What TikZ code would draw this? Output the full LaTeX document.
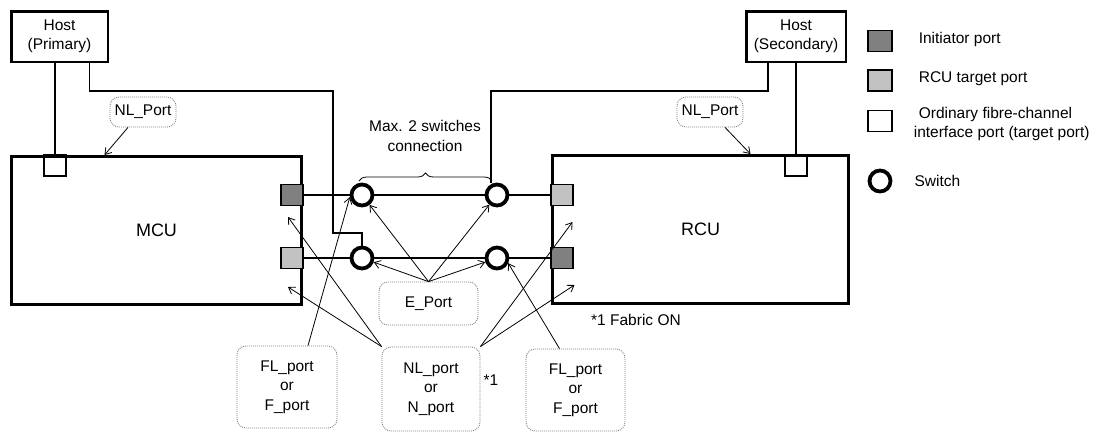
\documentclass[tikz,border=0pt]{standalone}
\usepackage{fontspec}
\setmainfont{Liberation Sans}
\usetikzlibrary{arrows.meta, positioning, decorations.pathreplacing}

\definecolor{initgray}{gray}{0.5}
\definecolor{tgtgray}{gray}{0.76}

\begin{document}
\begin{tikzpicture}[
	x=1pt, y=-1pt,
	font=\fontsize{15.5}{19.5}\selectfont,
	host/.style={
		rectangle,
		draw,
		line width=2.5pt,
		minimum width=96.5pt,
		minimum height=50.5pt,
		align=center,
		inner sep=2pt
	},
	unit/.style={
		rectangle,
		draw,
		line width=3pt,
		minimum width=290pt,
		minimum height=148pt,
		font=\fontsize{18}{20}\selectfont
	},
	port/.style={
		rectangle,
		draw,
		line width=1.2pt,
		minimum width=22pt,
		minimum height=21pt,
		inner sep=0pt
	},
	initport/.style={port, fill=initgray},
	tgtport/.style={port, fill=tgtgray},
	fcport/.style={port},
	switch/.style={
		circle,
		draw,
		line width=3.8pt,
		minimum size=21pt,
		inner sep=0pt,
		fill=white
	},
	note/.style={
		rectangle,
		draw=gray,
		dash pattern=on 1pt off 1pt,
		line width=0.8pt,
		rounded corners=9pt,
		align=center,
		inner sep=2pt
	},
	link/.style={line width=1.3pt},
	arrow/.style={
		-{Straight Barb[length=6pt, width=8pt]},
		line width=0.8pt
	},
	legtext/.style={inner sep=0pt, align=left}
	]
	
	\useasboundingbox (0,0) rectangle (1103,432);
	
	% Hosts
	\node[host] (hostp) at (59.5,36.5) {Host\\(Primary)};
	\node[host, minimum width=99.5pt] (hosts) at (796,36.5) {Host\\(Secondary)};
	
	% Control units
	\node[unit] (mcu) at (156.5,230.5) {MCU};
	\node[unit, minimum width=296pt] (rcu) at (700.5,229.5) {RCU};
	
	% Ports of the MCU
	\node[fcport] (mcufc) at (55,165.5) {};
	\node[initport] (mcuinit) at (292,195) {};
	\node[tgtport] (mcutgt) at (292,258) {};
	
	% Ports of the RCU
	\node[fcport] (rcufc) at (796,165.5) {};
	\node[tgtport] (rcutgt) at (562,195) {};
	\node[initport] (rcuinit) at (562,258) {};
	
	% Switches
	\node[switch] (swa) at (362,195) {};
	\node[switch] (swb) at (362,258) {};
	\node[switch] (swc) at (497,195) {};
	\node[switch] (swd) at (497,258) {};
	
	% Fibre links
	\draw[link] (mcuinit.east) -- (swa.west);
	\draw[link] (swa.east) -- (swc.west);
	\draw[link] (swc.east) -- (rcutgt.west);
	\draw[link] (mcutgt.east) -- (swb.west);
	\draw[link] (swb.east) -- (swd.west);
	\draw[link] (swd.east) -- (rcuinit.west);
	
	% Host cables
	\draw[link] (hostp.south -| mcufc.north) -- (mcufc.north);
	\draw[link] ([xshift=30pt]hostp.south) |- (333,91) -- (333,233) -| (swb.north);
	\coordinate (bendr) at (491,91);
	\draw[link] ([xshift=-28pt]hosts.south) |- (bendr) -- (bendr |- swc.north);
	\draw[link] (hosts.south -| rcufc.north) -- (rcufc.north);
	
	% Max. 2 switches
	\draw[decorate, decoration={brace, amplitude=8pt}, line width=0.8pt] (359,181) -- (492,181);
	\node[align=center] (maxsw) at (425,136) {Max. 2 switches\\connection};
	
	% Port type notes
	\node[note, minimum width=66pt, minimum height=30pt] (nlpl) at (143,112) {NL\_Port};
	\node[note, minimum width=66pt, minimum height=30pt] (nlpr) at (710,112) {NL\_Port};
	\node[note, minimum width=99pt, minimum height=43pt] (eport) at (428.5,303.5) {E\_Port};
	\node[note, minimum width=100pt, minimum height=82pt] (fll) at (287,387) {FL\_port\\or\\F\_port};
	\node[note, minimum width=98pt, minimum height=84pt] (nln) at (431,389) {NL\_port\\or\\N\_port};
	\node[note, minimum width=99pt, minimum height=82pt] (flr) at (575.5,390) {FL\_port\\or\\F\_port};
	
	\draw[arrow] ([xshift=-15pt]nlpl.south) -- ([xshift=-52pt]mcu.north);
	\draw[arrow] ([xshift=15pt]nlpr.south) -- ([xshift=50pt]rcu.north);
	
	\draw[arrow] (eport.north) -- (swa);
	\draw[arrow] (eport.north) -- (swb);
	\draw[arrow] (eport.north) -- (swc);
	\draw[arrow] (eport.north) -- (swd);
	
	\draw[arrow] ([xshift=21pt]fll.north) -- (swa.190);
	\draw[arrow] ([xshift=-16pt]flr.north) -- (swd.-25);
	
	\draw[arrow] (nln.north west) -- ([xshift=-15pt,yshift=13.5pt]mcu.east);
	\draw[arrow] (nln.north west) -- ([xshift=-15pt,yshift=-56.5pt]mcu.east);
	\draw[arrow] (nln.north east) -- ([xshift=21.5pt,yshift=7.5pt]rcu.west);
	\draw[arrow] (nln.north east) -- ([xshift=23.5pt,yshift=-55.5pt]rcu.west);
	
	% Footnote
	\node (star) at (491,380) {*1};
	\node (fabric) at (636,320) {*1 Fabric ON};
	
	% Legend
	\node[initport, minimum width=24pt] (leginit) at (880,41) {};
	\node[legtext, right=26pt of leginit, yshift=2pt] (leginittxt) {Initiator port};
	\node[tgtport, minimum width=24pt] (legtgt) at (880,80.5) {};
	\node[legtext, right=26pt of legtgt, yshift=2pt] (legtgttxt) {RCU target port};
	\node[fcport, minimum width=24pt] (legfc) at (880,121) {};
	\node[legtext, right=21pt of legfc, yshift=-3pt] (legfctxt) {\hspace{5pt}Ordinary fibre-channel\\interface port (target port)};
	\node[switch] (legsw) at (880,181) {};
	\node[legtext, right=22pt of legsw] (legswtxt) {Switch};
	
\end{tikzpicture}
\end{document}
